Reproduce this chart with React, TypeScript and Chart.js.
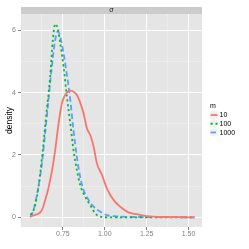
import React, { useEffect, useRef } from "react";
import { Chart, registerables } from "chart.js";

Chart.register(...registerables);

const seriesNames = ["10", "100", "1000"];
const seriesColors = ["#F8766D", "#00BA38", "#619CFF"];
const seriesDash: number[][] = [[], [2.2, 2.8], [5.5, 3]];

const m10X = [0.556, 0.585, 0.615, 0.63, 0.644, 0.66, 0.674, 0.69, 0.704, 0.724, 0.744, 0.764, 0.794, 0.813, 0.83, 0.843, 0.858, 0.873, 0.893, 0.913, 0.933, 0.953, 0.983, 1.012, 1.052, 1.092, 1.141, 1.191, 1.251, 1.35, 1.45, 1.536];
const m10Y = [0.03, 0.08, 0.16, 0.3, 0.55, 0.85, 1.2, 1.65, 2.16, 3.0, 3.66, 3.93, 4.06, 4.03, 3.95, 3.82, 3.6, 3.34, 2.86, 2.64, 2.27, 1.73, 1.36, 0.93, 0.56, 0.34, 0.16, 0.1, 0.04, 0.01, 0.005, 0.0];

const m100X = [0.556, 0.575, 0.595, 0.615, 0.634, 0.654, 0.674, 0.69, 0.704, 0.718, 0.734, 0.754, 0.774, 0.794, 0.813, 0.833, 0.853, 0.883, 0.913, 0.943, 0.973, 1.03, 1.2, 1.4, 1.536];
const m100Y = [0.08, 0.23, 0.66, 1.41, 2.38, 3.44, 4.51, 5.69, 6.2, 6.07, 5.59, 4.83, 3.87, 3.02, 2.16, 1.52, 1.04, 0.66, 0.39, 0.13, 0.02, 0.0, 0.0, 0.0, 0.0];

const m1000X = [0.556, 0.575, 0.604, 0.625, 0.644, 0.664, 0.684, 0.704, 0.72, 0.734, 0.754, 0.774, 0.794, 0.813, 0.833, 0.853, 0.873, 0.903, 0.933, 0.973, 1.012, 1.07, 1.2, 1.4, 1.536];
const m1000Y = [0.0, 0.23, 0.98, 1.73, 2.7, 3.77, 4.83, 5.69, 5.96, 5.8, 5.26, 4.57, 3.77, 2.8, 1.95, 1.3, 0.88, 0.56, 0.34, 0.18, 0.07, 0.03, 0.01, 0.005, 0.0];

const xTicks = [0.625, 0.75, 0.875, 1.0, 1.125, 1.25, 1.375, 1.5];
const xMajor = [0.75, 1.0, 1.25, 1.5];
const yTicks = [0, 1, 2, 3, 4, 5, 6];
const yMajor = [0, 2, 4, 6];
const stripLabel = "σ";
const yTitle = "density";
const legendTitle = "m";

const FONT = "'Liberation Sans', Arial, sans-serif";

function isIn(arr: number[], v: number) {
  return arr.some((a) => Math.abs(a - v) < 1e-6);
}

const panelPlugin = {
  id: "panel",
  beforeDraw(chart: any) {
    const { ctx, chartArea: a } = chart;
    ctx.save();
    ctx.fillStyle = "#E5E5E5";
    ctx.fillRect(a.left, a.top, a.right - a.left, a.bottom - a.top);
    ctx.restore();
  },
  afterDraw(chart: any) {
    const { ctx, chartArea: a } = chart;
    ctx.save();
    // strip
    ctx.fillStyle = "#CCCCCC";
    ctx.fillRect(a.left, a.top - 7, a.right - a.left, 7);
    ctx.fillStyle = "#1A1A1A";
    ctx.font = `7px ${FONT}`;
    ctx.textAlign = "center";
    ctx.textBaseline = "middle";
    ctx.fillText(stripLabel, (a.left + a.right) / 2, a.top - 3.5);
    // y title
    ctx.save();
    ctx.translate(10, (a.top + a.bottom) / 2);
    ctx.rotate(-Math.PI / 2);
    ctx.fillStyle = "#000";
    ctx.font = `8.5px ${FONT}`;
    ctx.textAlign = "center";
    ctx.textBaseline = "middle";
    ctx.fillText(yTitle, 0, 0);
    ctx.restore();
    // legend
    ctx.fillStyle = "#000";
    ctx.font = `7px ${FONT}`;
    ctx.textAlign = "left";
    ctx.textBaseline = "middle";
    ctx.fillText(legendTitle, 210, 106.5);
    const keyH = 8.7;
    const top0 = 110.7;
    seriesNames.forEach((name, i) => {
      const y0 = top0 + i * keyH;
      ctx.fillStyle = "#F2F2F2";
      ctx.fillRect(210, y0, 8, keyH);
      ctx.strokeStyle = "#FFFFFF";
      ctx.lineWidth = 0.5;
      ctx.strokeRect(210, y0, 8, keyH);
      ctx.strokeStyle = seriesColors[i];
      ctx.lineWidth = 1.8;
      ctx.setLineDash(seriesDash[i]);
      ctx.beginPath();
      ctx.moveTo(210.5, y0 + keyH / 2);
      ctx.lineTo(217.5, y0 + keyH / 2);
      ctx.stroke();
      ctx.setLineDash([]);
      ctx.fillStyle = "#000";
      ctx.fillText(name, 219.5, y0 + keyH / 2 + 0.3);
    });
    ctx.restore();
  },
};

export default function App() {
  const ref = useRef<HTMLCanvasElement | null>(null);
  useEffect(() => {
    if (!ref.current) return;
    const xs = [m10X, m100X, m1000X];
    const ys = [m10Y, m100Y, m1000Y];
    const datasets = seriesNames.map((name, i) => ({
      label: name,
      data: xs[i].map((x, j) => ({ x, y: ys[i][j] })),
      borderColor: seriesColors[i],
      backgroundColor: seriesColors[i],
      borderDash: seriesDash[i],
      borderWidth: 1.8,
      pointRadius: 0,
      fill: false,
      cubicInterpolationMode: "monotone" as const,
      borderCapStyle: "butt" as const,
    }));
    const chart = new Chart(ref.current, {
      type: "line",
      data: { datasets },
      options: {
        animation: false,
        responsive: false,
        devicePixelRatio: 1,
        layout: { padding: { top: 14, right: 47, left: 0, bottom: 0 } },
        plugins: { legend: { display: false }, tooltip: { enabled: false } },
        scales: {
          x: {
            type: "linear",
            min: 0.5,
            max: 1.58,
            afterBuildTicks: (s: any) => {
              s.ticks = xTicks.map((v) => ({ value: v }));
            },
            afterFit: (s: any) => {
              s.height = 22;
            },
            border: { display: false },
            grid: {
              color: (c: any) => (isIn(xMajor, c.tick?.value) ? "#FFFFFF" : "#F2F2F2"),
              lineWidth: (c: any) => (isIn(xMajor, c.tick?.value) ? 1 : 0.5),
              tickColor: (c: any) => (isIn(xMajor, c.tick?.value) ? "#7F7F7F" : "rgba(0,0,0,0)"),
              tickLength: 3,
            },
            ticks: {
              autoSkip: false,
              maxRotation: 0,
              padding: 0,
              color: "#7F7F7F",
              font: { family: FONT, size: 7 },
              callback: (v: any) => (isIn(xMajor, Number(v)) ? Number(v).toFixed(2) : ""),
            },
          },
          y: {
            type: "linear",
            min: -0.31,
            max: 6.52,
            afterBuildTicks: (s: any) => {
              s.ticks = yTicks.map((v) => ({ value: v }));
            },
            afterFit: (s: any) => {
              s.width = 21;
            },
            border: { display: false },
            grid: {
              color: (c: any) => (isIn(yMajor, c.tick?.value) ? "#FFFFFF" : "#F2F2F2"),
              lineWidth: (c: any) => (isIn(yMajor, c.tick?.value) ? 1 : 0.5),
              tickColor: (c: any) => (isIn(yMajor, c.tick?.value) ? "#7F7F7F" : "rgba(0,0,0,0)"),
              tickLength: 3,
            },
            ticks: {
              autoSkip: false,
              padding: 2,
              color: "#7F7F7F",
              font: { family: FONT, size: 7 },
              callback: (v: any) => (isIn(yMajor, Number(v)) ? String(v) : ""),
            },
          },
        },
      },
      plugins: [panelPlugin],
    });
    return () => chart.destroy();
  }, []);
  return (
    <div style={{ position: "absolute", left: 0, top: 0, width: 249, height: 249, background: "#FFFFFF" }}>
      <canvas ref={ref} width={249} height={249} style={{ width: 249, height: 249, display: "block" }} />
    </div>
  );
}
